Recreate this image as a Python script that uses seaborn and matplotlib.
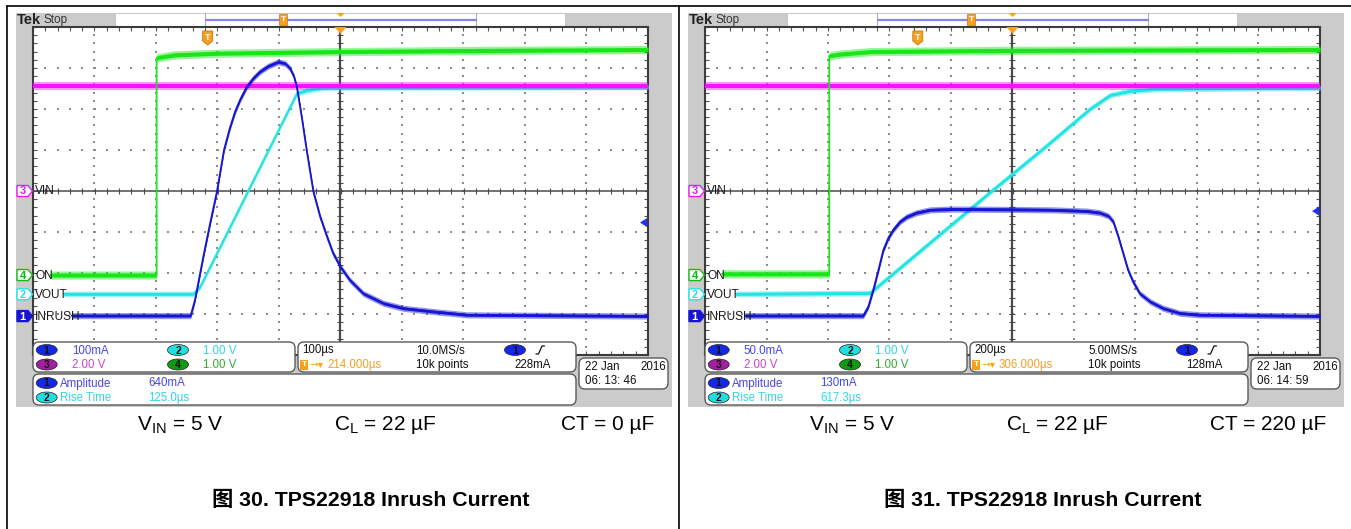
import numpy as np
import matplotlib
matplotlib.use("Agg")
import matplotlib.pyplot as plt
import seaborn as sns
from matplotlib import font_manager as fm
from matplotlib.patches import Rectangle, FancyBboxPatch, Ellipse, Polygon

# ---------------- data: screen divisions (time -5..5 div, value -4..4 div) ----------
# Figure 30 : CT = 0 uF, 100 us/div
a_on_t = [-4.72, -2.99, -2.99, -2.7, -2.0, 0.0, 2.5, 5.0]
a_on_v = [-2.05, -2.05, 3.25, 3.32, 3.36, 3.40, 3.43, 3.45]
a_vin_t = [-5.0, 5.0]
a_vin_v = [2.56, 2.56]
a_vout_t = [-4.50, -2.39, -2.28, -0.71, -0.55, -0.28, 0.15, 5.0]
a_vout_v = [-2.51, -2.51, -2.33, 2.38, 2.46, 2.52, 2.53, 2.54]
a_inr_t = [-4.37, -2.436, -2.366, -2.23, -2.12, -2.01, -1.894, -1.80, -1.715, -1.634,
           -1.525, -1.418, -1.31, -1.17, -1.01, -0.90, -0.82, -0.756, -0.71, -0.63,
           -0.55, -0.44, -0.33, -0.22, -0.12, 0.0, 0.15, 0.37, 0.70, 1.02, 1.51, 2.05, 5.0]
a_inr_v = [-3.04, -3.04, -2.66, -1.60, -0.79, -0.02, 1.0, 1.53, 1.93, 2.22,
           2.54, 2.75, 2.91, 3.05, 3.15, 3.11, 2.99, 2.79, 2.54, 1.81,
           1.0, -0.02, -0.63, -1.11, -1.52, -1.85, -2.17, -2.50, -2.74, -2.86, -2.94, -3.02, -3.05]

# Figure 31 : CT = 220 uF, 200 us/div
b_on_t = [-4.72, -2.98, -2.98, -2.8, -2.3, 0.0, 5.0]
b_on_v = [-2.02, -2.02, 3.30, 3.34, 3.40, 3.43, 3.45]
b_vin_t = [-5.0, 5.0]
b_vin_v = [2.56, 2.56]
b_vout_t = [-4.50, -2.32, -0.34, 0.47, 1.26, 1.59, 1.91, 2.32, 5.0]
b_vout_v = [-2.51, -2.49, 0.0, 1.0, 2.0, 2.34, 2.44, 2.49, 2.52]
b_inr_t = [-4.35, -2.426, -2.344, -2.263, -2.18, -2.10, -2.02, -1.94, -1.83, -1.72, -1.56,
           -1.34, -0.96, 0.0, 0.66, 1.21, 1.42, 1.56, 1.64, 1.72, 1.80, 1.88, 1.96,
           2.07, 2.24, 2.45, 2.72, 3.05, 5.0]
b_inr_v = [-3.04, -3.04, -2.82, -2.41, -1.93, -1.44, -1.15, -0.95, -0.75, -0.63, -0.53,
           -0.46, -0.44, -0.45, -0.46, -0.49, -0.53, -0.61, -0.75, -1.11, -1.52, -1.93, -2.21,
           -2.50, -2.70, -2.86, -2.98, -3.02, -3.05]

# channel ground markers (div) and labels
chan_names = ["INRUSH", "VOUT", "VIN", "ON"]
chan_nums = ["1", "2", "3", "4"]
chan_ref = [-3.05, -2.52, 0.0, -2.05]

a_scales = ["100mA", "1.00 V", "2.00 V", "1.00 V"]
b_scales = ["50.0mA", "1.00 V", "2.00 V", "1.00 V"]
a_horiz = ["100µs", "10.0MS/s", "214.000µs", "10k points", "228mA"]
b_horiz = ["200µs", "5.00MS/s", "306.000µs", "10k points", "128mA"]
meas_names = ["Amplitude", "Rise Time"]
a_meas = ["640mA", "125.0µs"]
b_meas = ["130mA", "617.3µs"]
a_date = ["22 Jan", "2016", "06: 13: 46"]
b_date = ["22 Jan", "2016", "06: 14: 59"]
a_trig = [-2.16, -0.77]   # trigger position (div), trigger level (div)
b_trig = [-1.54, -0.49]
a_captions = ["V$_\\mathregular{IN}$ = 5 V", "C$_\\mathregular{L}$ = 22 µF", "CT = 0 µF"]
b_captions = ["V$_\\mathregular{IN}$ = 5 V", "C$_\\mathregular{L}$ = 22 µF", "CT = 220 µF"]
a_title = "图 30. TPS22918 Inrush Current"
b_title = "图 31. TPS22918 Inrush Current"

# ---------------- style ----------------
sns.set_theme(style="white")
names = {f.name for f in fm.fontManager.ttflist}
NARROW = "Liberation Sans Narrow" if "Liberation Sans Narrow" in names else "Liberation Sans"
plt.rcParams["font.family"] = ["Liberation Sans", "DejaVu Sans"]
plt.rcParams["mathtext.fontset"] = "custom"
plt.rcParams["mathtext.rm"] = "Liberation Sans"

BLUE, CYAN, MAG, GREEN = "#1616d0", "#22e4e4", "#f018f0", "#18e618"
T_BLUE, T_CYAN, T_MAG, T_GREEN = "#4646f0", "#2ed6e6", "#cc44cc", "#33aa33"
B_BLUE, B_CYAN, B_MAG, B_GREEN = "#1428e6", "#22dede", "#a020a0", "#119911"
ORANGE = "#f5a020"
GREYBG = "#cbcbcb"
FS = 8.3

W, H = 1351, 529
fig = plt.figure(figsize=(W / 100, H / 100), dpi=100)
fig.patch.set_facecolor("white")
bg = fig.add_axes([0, 0, 1, 1], zorder=0)
ov = fig.add_axes([0, 0, 1, 1], zorder=3)
for a in (bg, ov):
    a.set_xlim(0, W)
    a.set_ylim(H, 0)
    a.axis("off")

# outer frame lines
bg.plot([7, W], [6, 6], color="black", lw=1.2)
bg.plot([7, 7], [6, H], color="black", lw=1.2)
bg.plot([679, 679], [6, H], color="black", lw=1.2)


def badge(x, y, num, fc):
    ov.add_patch(Ellipse((x, y), 21, 11, fc=fc, ec="#222222", lw=0.5))
    ov.text(x, y + 0.5, num, fontsize=7.5, ha="center", va="center", color="#111111",
            fontweight="bold")


def txt(x, y, s, color="#111111", **kw):
    ov.text(x, y + 0.5, s, fontsize=FS, ha=kw.pop("ha", "left"), va="center", color=color, **kw)


def panel(off, traces, scales, horiz, meas, date, trig, captions, title, bar_t):
    # grey scope background
    bg.add_patch(Rectangle((16 + off, 13), 656, 394, fc=GREYBG, ec="none"))
    # top bar
    bg.add_patch(Rectangle((115 + off, 13), 450, 13, fc="white", ec="#b8b8b8", lw=0.5))
    bg.plot([205 + off, 205 + off], [13, 26], color="#b0b0b0", lw=0.8)
    bg.plot([476 + off, 476 + off], [13, 26], color="#b0b0b0", lw=0.8)
    bg.plot([206 + off, 476 + off], [19.5, 19.5], color="#8484ee", lw=1.6)
    bg.text(17 + off, 20, "Tek", fontsize=10.5, fontweight="bold", va="center", color="#222222")
    bg.text(44 + off, 20, "Stop", fontsize=8.5, va="center", color="#333333")

    # graticule axes
    gx0, gx1, gy0, gy1 = 33 + off, 648 + off, 27, 355
    ax = fig.add_axes([gx0 / W, 1 - gy1 / H, (gx1 - gx0) / W, (gy1 - gy0) / H], zorder=1)
    ax.set_facecolor("white")
    ax.set_xlim(-5, 5)
    ax.set_ylim(-4, 4)
    ax.set_xticks(np.arange(-5, 5.01, 1))
    ax.set_yticks(np.arange(-4, 4.01, 1))
    ax.set_xticks(np.arange(-5, 5.01, 0.2), minor=True)
    ax.set_yticks(np.arange(-4, 4.01, 0.2), minor=True)
    ax.tick_params(which="both", direction="in", length=3, width=0.8, color="#555555",
                   top=True, right=True, bottom=True, left=True,
                   labelleft=False, labelbottom=False)
    for s in ax.spines.values():
        s.set_color("#3c3c3c")
        s.set_linewidth(1.5)
    # dotted graticule
    sub_x = np.arange(-5, 5.001, 0.2)
    sub_y = np.arange(-4, 4.001, 0.2)
    for k in range(-3, 4):
        if k != 0:
            ax.scatter(sub_x, np.full_like(sub_x, k), s=1.6, marker="s", color="#8c8c8c", lw=0)
    for k in range(-4, 5):
        if k != 0:
            ax.scatter(np.full_like(sub_y, k), sub_y, s=1.6, marker="s", color="#8c8c8c", lw=0)
    ax.axhline(0, color="#4a4a4a", lw=1.1, zorder=1)
    ax.axvline(0, color="#4a4a4a", lw=1.6, zorder=1)
    ax.scatter(sub_x, np.zeros_like(sub_x), marker="|", s=22, color="#4a4a4a", lw=0.8, zorder=1)
    ax.scatter(np.zeros_like(sub_y), sub_y, marker="_", s=22, color="#4a4a4a", lw=0.8, zorder=1)

    # traces
    for t, v, c, b_in, b_out in traces:
        va = np.array(v)
        ax.fill_between(t, va - b_out, va + b_out, color=c, lw=0, alpha=0.45, zorder=3)
        ax.fill_between(t, va - b_in, va + b_in, color=c, lw=0, alpha=1.0, zorder=3)
        sns.lineplot(x=t, y=v, ax=ax, color=c, lw=1.3, sort=False, estimator=None,
                     zorder=3, legend=False)
    ax.set_xlabel("")
    ax.set_ylabel("")

    def ypx(v):
        return 191 - 41 * v

    def xpx(t):
        return 340.5 + off + 61.5 * t

    # channel markers on the left strip
    styles = {"1": (BLUE, "white", BLUE), "2": ("white", CYAN, CYAN),
              "3": ("white", MAG, MAG), "4": ("white", "#10b010", "#10c010")}
    for nm, num, r in zip(chan_names, chan_nums, chan_ref):
        y = ypx(r)
        fc, tc, ec = styles[num]
        ov.add_patch(Polygon([(17 + off, y - 5.5), (28 + off, y - 5.5), (32.5 + off, y),
                              (28 + off, y + 5.5), (17 + off, y + 5.5)],
                             closed=True, fc=fc, ec=ec, lw=1.0))
        ov.text(22.5 + off, y + 0.5, num, fontsize=8, ha="center", va="center", color=tc,
                fontweight="bold")
        ov.text(35 + off, y + 0.5, nm, fontsize=8.6, ha="left", va="center", color="#1a1a1a",
                family=NARROW)

    # trigger markers
    tx = xpx(trig[0])
    ov.add_patch(Polygon([(tx - 5, 31), (tx + 5, 31), (tx + 5, 41), (tx, 45), (tx - 5, 41)],
                         closed=True, fc=ORANGE, ec="#c67a10", lw=0.6))
    ov.text(tx, 37, "T", fontsize=6.5, color="white", ha="center", va="center", fontweight="bold")
    cx = xpx(0)
    ov.add_patch(Polygon([(cx - 6, 27), (cx + 6, 27), (cx, 34)], closed=True, fc=ORANGE,
                         ec="none"))
    ov.add_patch(Polygon([(cx - 4, 13), (cx + 4, 13), (cx, 17)], closed=True, fc=ORANGE,
                         ec="none"))
    ov.add_patch(Rectangle((bar_t - 4, 14), 8, 11, fc=ORANGE, ec="#c67a10", lw=0.5))
    ov.text(bar_t, 19.5, "T", fontsize=6, color="white", ha="center", va="center",
            fontweight="bold")
    ly = ypx(trig[1])
    ov.add_patch(Polygon([(640 + off, ly), (647 + off, ly - 4.5), (647 + off, ly + 4.5)],
                         closed=True, fc="#2030ff", ec="none"))

    # status boxes
    def rbox(x0, y0, x1, y1):
        ov.add_patch(FancyBboxPatch((x0 + off, y0), x1 - x0, y1 - y0,
                                    boxstyle="round,pad=0,rounding_size=6",
                                    fc="white", ec="#5a5a5a", lw=1.0))
    rbox(33, 342, 295, 372)
    rbox(298, 342, 576, 372)
    rbox(579, 358, 668, 389)
    rbox(33, 374, 576, 405)

    badge(46.7 + off, 350, "1", B_BLUE)
    txt(71.7 + off, 350, scales[0], T_BLUE)
    badge(178 + off, 350, "2", B_CYAN)
    txt(203 + off, 350, scales[1], T_CYAN)
    badge(46.7 + off, 364.5, "3", B_MAG)
    txt(71.7 + off, 364.5, scales[2], T_MAG)
    badge(178 + off, 364.5, "4", B_GREEN)
    txt(203 + off, 364.5, scales[3], T_GREEN)

    txt(302 + off, 350, horiz[0])
    txt(416 + off, 350, horiz[1])
    badge(515 + off, 350, "1", B_BLUE)
    ov.plot([536 + off, 538.5 + off, 542 + off, 544.5 + off], [354, 354, 346, 346],
            color="#111111", lw=0.9)
    ov.add_patch(Rectangle((300 + off, 359.5), 8, 10, fc=ORANGE, ec="none"))
    ov.text(304 + off, 365, "T", fontsize=6, color="white", ha="center", va="center",
            fontweight="bold")
    ov.text(309 + off, 365, "→▾", fontsize=7.5, color=ORANGE, ha="left", va="center",
            family=["DejaVu Sans"])
    txt(327 + off, 364.5, horiz[2], ORANGE)
    txt(416 + off, 364.5, horiz[3])
    txt(514 + off, 364.5, horiz[4])

    txt(585 + off, 366, date[0])
    txt(666 + off, 366, date[1], ha="right")
    txt(585 + off, 381, date[2])

    badge(46.7 + off, 383, "1", B_BLUE)
    txt(60 + off, 383, meas_names[0], T_BLUE)
    txt(148 + off, 383, meas[0], T_BLUE)
    badge(46.7 + off, 397.5, "2", B_CYAN)
    txt(60 + off, 397.5, meas_names[1], T_CYAN)
    txt(148 + off, 397.5, meas[1], T_CYAN)

    # captions and figure title
    bg.text(180 + off, 425, captions[0], fontsize=15, ha="center", va="center", color="black")
    bg.text(385 + off, 425, captions[1], fontsize=15, ha="center", va="center", color="black")
    bg.text(654 + off, 425, captions[2], fontsize=15, ha="right", va="center", color="black")
    bg.text(371 + off, 500, title, fontsize=15.3, fontweight="bold", ha="center", va="center",
            color="black", family=["Liberation Sans", "Noto Sans CJK SC"])


a_traces = [(a_vout_t, a_vout_v, CYAN, 0.035, 0.07),
            (a_vin_t, a_vin_v, MAG, 0.04, 0.1),
            (a_on_t, a_on_v, GREEN, 0.05, 0.1),
            (a_inr_t, a_inr_v, BLUE, 0.035, 0.075)]
b_traces = [(b_vout_t, b_vout_v, CYAN, 0.035, 0.07),
            (b_vin_t, b_vin_v, MAG, 0.04, 0.1),
            (b_on_t, b_on_v, GREEN, 0.05, 0.1),
            (b_inr_t, b_inr_v, BLUE, 0.035, 0.075)]

panel(0, a_traces, a_scales, a_horiz, a_meas, a_date, a_trig, a_captions, a_title, 283)
panel(672, b_traces, b_scales, b_horiz, b_meas, b_date, b_trig, b_captions, b_title, 971)

fig.savefig("out.png", dpi=100, facecolor="white")
